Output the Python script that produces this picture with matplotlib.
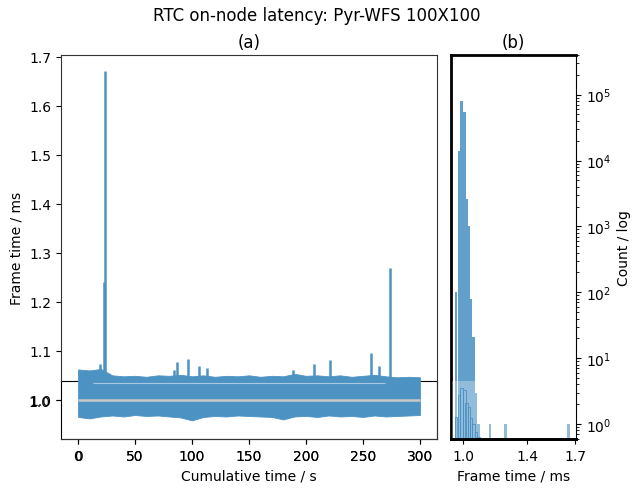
import numpy as np
import matplotlib.pyplot as plt

# band envelope of the frame-time series, read every 10 s
t_env = list(range(0, 301, 10))
upper_env = [1.062, 1.060, 1.063, 1.050, 1.048, 1.049, 1.047, 1.050, 1.049, 1.051,
             1.048, 1.050, 1.047, 1.049, 1.048, 1.050, 1.047, 1.049, 1.048, 1.053,
             1.049, 1.050, 1.048, 1.050, 1.047, 1.049, 1.051, 1.048, 1.046, 1.047, 1.046]
lower_env = [0.965, 0.962, 0.966, 0.968, 0.966, 0.969, 0.967, 0.968, 0.966, 0.964,
             0.958, 0.965, 0.967, 0.966, 0.968, 0.967, 0.966, 0.965, 0.960, 0.966,
             0.967, 0.965, 0.968, 0.966, 0.967, 0.965, 0.968, 0.966, 0.967, 0.968, 0.969]

# isolated spikes above the band
spike_t = [19, 23, 24, 84, 86.5, 96.5, 106, 113, 189, 207, 221, 257, 264, 274]
spike_ms = [1.073, 1.24, 1.671, 1.060, 1.077, 1.084, 1.070, 1.064, 1.060, 1.074,
            1.082, 1.096, 1.069, 1.269]

mean_ms = 1.0
faint_line = (13, 269, 1.035)

# histogram of frame times (log counts)
hist_centers = [0.958, 0.974, 0.991, 1.008, 1.023, 1.037, 1.049, 1.066, 1.082, 1.096,
                1.167, 1.266, 1.659]
hist_counts = [100, 14000, 81000, 55000, 2600, 1000, 80, 21, 3, 1, 1, 1, 1]
bin_w = 0.0152

band_col = '#4c92c3'
hist_col = '#62a0cb'
xt = [0, 50, 100, 150, 200, 250, 300]

fig = plt.figure(figsize=(6.33, 4.89), dpi=100)
fig.suptitle('RTC on-node latency: Pyr-WFS 100X100', y=0.985, fontsize=12)

# strip frame behind the bottom of (a)
ax1b = fig.add_axes([60.5 / 633, 49 / 489, 376.5 / 633, 58 / 489])
ax1b.set_xlim(-15, 315)
ax1b.set_xticks(xt)
ax1b.set_ylim(0.9204, 1.0388)
ax1b.set_yticks([1.0])
ax1b.set_yticklabels(['1.0'])

# (a) time series, transparent so the strip shows through
ax1 = fig.add_axes([61 / 633, 49 / 489, 376 / 633, 384 / 489])
ax1.patch.set_alpha(0)
ax1.fill_between(t_env, lower_env, upper_env, color=band_col, lw=0.6,
                 edgecolor=band_col, zorder=3)
ax1.vlines(spike_t, mean_ms, spike_ms, color=band_col, lw=1.8, zorder=3)
ax1.hlines(mean_ms, 0, 300, color='#c8c8c8', lw=1.8, zorder=4)
ax1.hlines(faint_line[2], faint_line[0], faint_line[1], color='#a9c9e2', lw=0.8,
           zorder=4)
ax1.set_xlim(-15, 315)
ax1.set_xticks(xt)
ax1.set_ylim(0.920, 1.704)
ax1.set_yticks([1.0, 1.1, 1.2, 1.3, 1.4, 1.5, 1.6, 1.7])
ax1.set_ylabel('Frame time / ms')
ax1.set_xlabel('Cumulative time / s')
ax1.set_title('(a)')
for s in ax1.spines.values():
    s.set_color('#333333')
ax1.spines['left'].set_bounds(1.039, 1.704)

# (b) histogram
ax2 = fig.add_axes([451 / 633, 49 / 489, 125 / 633, 384 / 489])
ax2.bar(hist_centers, hist_counts, width=bin_w, color=hist_col, lw=0)
ax2.set_yscale('log')
ax2.set_ylim(0.593, 4.0e5)
ax2.set_xlim(0.925, 1.706)
ax2.set_xticks([1.0, 1.4, 1.7])
ax2.yaxis.tick_right()
ax2.yaxis.set_label_position('right')
ax2.set_ylabel('Count / log')
ax2.set_xlabel('Frame time / ms')
ax2.set_title('(b)')
for side in ['left', 'top', 'bottom']:
    ax2.spines[side].set_linewidth(2)

# lighter strip at the bottom of (b)
ax2b = fig.add_axes([451 / 633, 49 / 489, 125 / 633, 58 / 489])
ax2b.set_facecolor((1, 1, 1, 0.3))
ax2b.bar(hist_centers[:10], hist_counts[:10], width=bin_w, color='none',
         edgecolor='#4a90c4', lw=0.6)
ax2b.set_yscale('log')
ax2b.set_ylim(0.593, 4.0e5)
ax2b.set_xlim(0.925, 1.706)
ax2b.set_xticks([])
ax2b.set_yticks([])
ax2b.yaxis.set_minor_locator(plt.NullLocator())
for side in ['top', 'right']:
    ax2b.spines[side].set_visible(False)
ax2b.spines['bottom'].set_linewidth(2)

fig.savefig('out.png', dpi=100)
